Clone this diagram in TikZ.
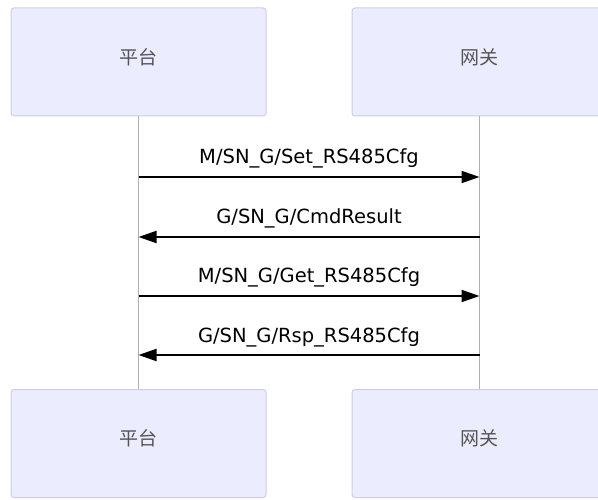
\documentclass[tikz,border=0pt]{standalone}
\usepackage{fontspec}
\setmainfont{DejaVu Sans}
\newfontfamily\cjk{Noto Sans CJK SC}
\usetikzlibrary{arrows.meta}
\definecolor{actorfill}{HTML}{ECECFF}
\definecolor{actorline}{HTML}{CDCDEB}
\definecolor{lifegray}{HTML}{B0B0B0}
\definecolor{actortext}{HTML}{555555}
\begin{document}
\begin{tikzpicture}[x=1pt,y=-1pt,
    actor/.style={draw=actorline,line width=1pt,fill=actorfill,rounded corners=3pt,
      minimum width=255pt,minimum height=108pt,inner sep=0pt},
    actorlabel/.style={font=\cjk\fontsize{19}{19}\selectfont,text=actortext,yshift=5pt},
    lifeline/.style={draw=lifegray,line width=0.9pt},
    msg/.style={line width=2pt,-{Triangle[length=18pt,width=12pt]}},
    msglabel/.style={font=\fontsize{19.5}{19.5}\selectfont,anchor=base,yshift=13pt}]
  \useasboundingbox (0,0) rectangle (598,500);
  \clip (0,0) rectangle (598,500);

  % Acteurs
  \node[actor,label={[actorlabel]center:平台}] (pTop) at (138.5,62) {};
  \node[actor,label={[actorlabel]center:网关}] (gTop) at (479.5,62) {};
  \node[actor,label={[actorlabel]center:平台}] (pBot) at (138.5,443.5) {};
  \node[actor,label={[actorlabel]center:网关}] (gBot) at (479.5,443.5) {};

  % Lignes de vie
  \draw[lifeline] (pTop) -- (pBot);
  \draw[lifeline] (gTop) -- (gBot);

  % Messages
  \draw[msg] (pTop |- 0,177) -- node[msglabel] {M/SN\_G/Set\_RS485Cfg} (gTop |- 0,177);
  \draw[msg] (gTop |- 0,237) -- node[msglabel] {G/SN\_G/CmdResult} (pTop |- 0,237);
  \draw[msg] (pTop |- 0,296) -- node[msglabel] {M/SN\_G/Get\_RS485Cfg} (gTop |- 0,296);
  \draw[msg] (gTop |- 0,355) -- node[msglabel] {G/SN\_G/Rsp\_RS485Cfg} (pTop |- 0,355);
\end{tikzpicture}
\end{document}
